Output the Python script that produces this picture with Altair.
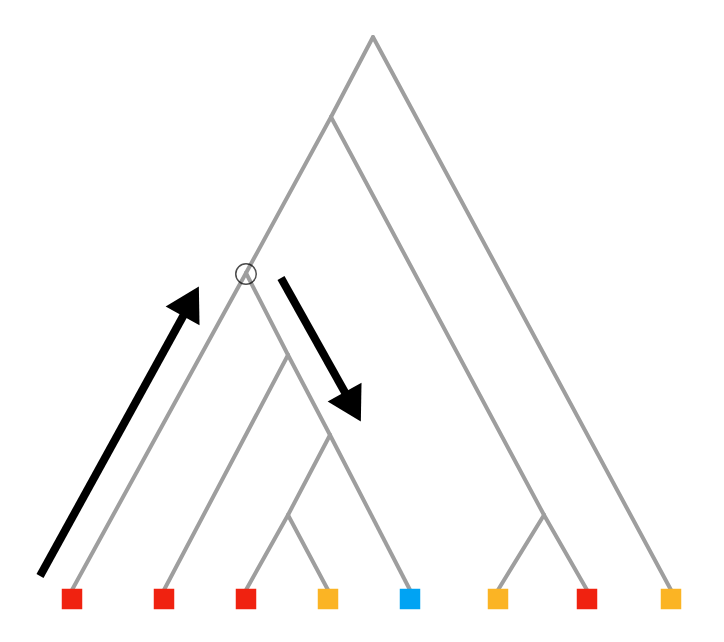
import altair as alt
import pandas as pd

# node positions (picture coordinates)
node_x = [373, 331, 246, 288, 330, 288, 544, 72, 164, 246, 328, 410, 498, 587, 671]
node_y = [37, 117, 273, 355, 435, 515, 515, 590, 590, 590, 590, 590, 590, 590, 590]
edges = [(0, 1), (0, 14), (1, 2), (1, 6), (2, 7), (2, 3), (3, 8), (3, 4),
         (4, 5), (4, 11), (5, 9), (5, 10), (6, 12), (6, 13)]

leaf_x = [72, 164, 246, 328, 410, 498, 587, 671]
leaf_y = [599] * 8
leaf_state = ["red", "red", "red", "orange", "blue", "orange", "red", "orange"]

arrow_x = [40, 192]
arrow_y = [576, 300]
arrow_x2 = [281, 352]
arrow_y2 = [278, 405]
head_x = [188, 350]
head_y = [306, 402]
head_angle = [29, 151]

X = alt.Scale(domain=[8, 716])
Y = alt.Scale(domain=[634, 8])
ax = dict(axis=None, scale=X)
ay = dict(axis=None, scale=Y)

ed = pd.DataFrame({
    "x": [node_x[a] for a, b in edges], "y": [node_y[a] for a, b in edges],
    "x2": [node_x[b] for a, b in edges], "y2": [node_y[b] for a, b in edges],
})
tree = alt.Chart(ed).mark_rule(color="#9e9e9e", strokeWidth=4, strokeCap="round").encode(
    x=alt.X("x:Q", **ax), y=alt.Y("y:Q", **ay), x2="x2", y2="y2")

leaves = alt.Chart(pd.DataFrame({"x": leaf_x, "y": leaf_y, "s": leaf_state})).mark_square(
    size=420, opacity=1).encode(
    x=alt.X("x:Q", **ax), y=alt.Y("y:Q", **ay),
    color=alt.Color("s:N", scale=alt.Scale(domain=["red", "orange", "blue"],
                                           range=["#f02210", "#fbb424", "#00a3f3"]), legend=None))

circle = alt.Chart(pd.DataFrame({"x": [246], "y": [274]})).mark_point(
    shape="circle", size=420, color="black", strokeWidth=1.5, filled=False).encode(
    x=alt.X("x:Q", **ax), y=alt.Y("y:Q", **ay))

ad = pd.DataFrame({"x": [arrow_x[0], arrow_x2[0]], "y": [arrow_y[0], arrow_y2[0]],
                   "x2": [arrow_x[1], arrow_x2[1]], "y2": [arrow_y[1], arrow_y2[1]]})
shafts = alt.Chart(ad).mark_rule(color="black", strokeWidth=8).encode(
    x=alt.X("x:Q", **ax), y=alt.Y("y:Q", **ay), x2="x2", y2="y2")

heads = alt.Chart(pd.DataFrame({"x": head_x, "y": head_y, "a": head_angle})).mark_point(
    shape="triangle", size=1500, color="black", filled=True, opacity=1).encode(
    x=alt.X("x:Q", **ax), y=alt.Y("y:Q", **ay),
    angle=alt.Angle("a:Q", scale=None))

chart = (tree + shafts + heads + circle + leaves).properties(
    width=708, height=626, padding=0, autosize="none"
).configure_view(stroke=None)

chart.save("out.html", embed_options={"renderer": "svg", "actions": False})
